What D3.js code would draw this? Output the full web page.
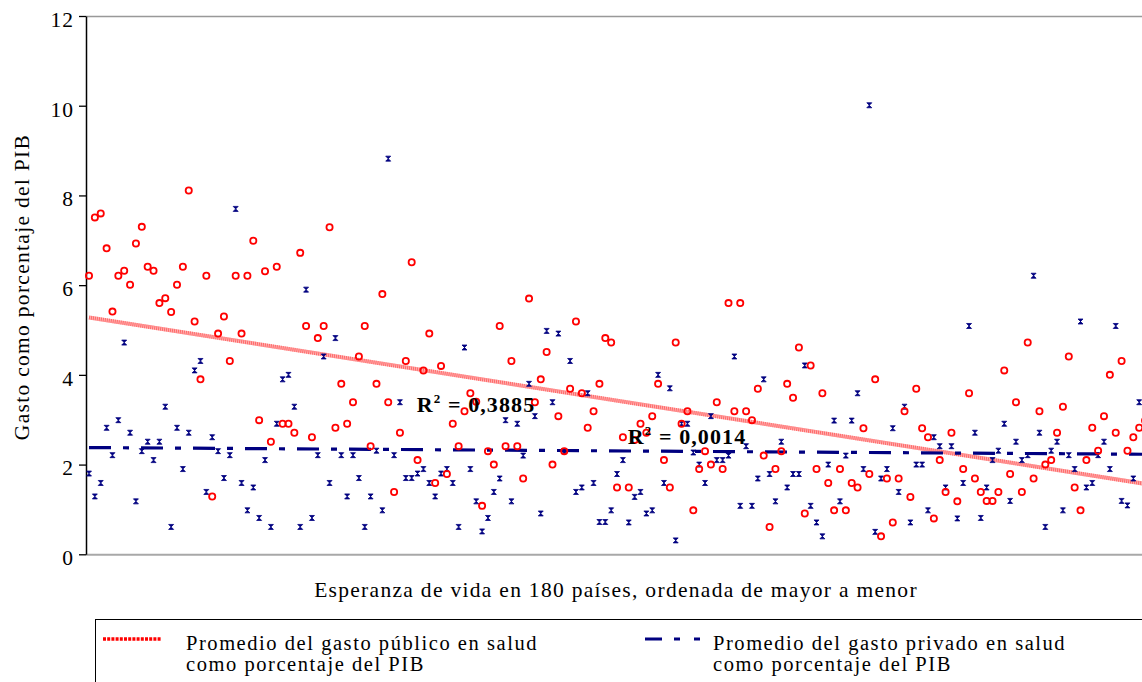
<!DOCTYPE html>
<html>
<head>
<meta charset="utf-8">
<script src="https://cdn.jsdelivr.net/npm/d3@7"></script>
<style>
  html, body { margin: 0; padding: 0; background: #fff; }
  svg { display: block; }
  text { font-family: "Liberation Serif", "Times New Roman", serif; fill: #000; }
</style>
</head>
<body>
<script>
// ---------------- DATA ----------------
const yTicks = [0, 2, 4, 6, 8, 10, 12];

// Public health spending (% of GDP), countries ordered by life expectancy (high -> low)
const publicSpending = [
  6.21, 7.51, 7.60, 6.82, 5.41, 6.21, 6.32, 6.01, 6.93, 7.30,
  6.41, 6.32, 5.60, 5.71, 5.40, 6.01, 6.41, 8.11, 5.19, 3.90,
  6.21, 1.29, 4.92, 5.30, 4.31, 6.21, 4.92, 6.21, 6.99, 2.99,
  6.31, 2.51, 6.41, 2.91, 2.91, 2.71, 6.72, 5.09, 2.61, 4.82,
  5.09, 7.29, 2.82, 3.80, 2.91, 3.39, 4.41, 5.09, 2.41, 3.80,
  5.80, 3.39, 1.39, 2.71, 4.31, 6.51, 2.10, 4.10, 4.92, 1.59,
  4.20, 1.79, 2.91, 2.41, 3.19, 3.59, 3.40, 1.08, 2.30, 2.00,
  5.09, 2.41, 4.31, 2.41, 1.69, 5.70, 3.39, 3.90, 4.51, 2.00,
  3.08, 2.30, 3.69, 5.19, 3.59, 2.82, 3.19, 3.80, 4.82, 4.72,
  1.49, 2.61, 1.49, 2.55, 2.91, 2.71, 3.08, 3.80, 2.10, 1.49,
  4.72, 2.91, 3.19, 0.98, 1.90, 2.30, 2.00, 3.39, 1.90, 5.60,
  3.19, 5.60, 3.19, 2.99, 3.69, 2.20, 0.61, 1.90, 2.30, 3.80,
  3.49, 4.61, 0.91, 4.21, 1.90, 3.59, 1.59, 0.98, 1.90, 0.98,
  1.59, 1.49, 2.81, 1.79, 3.90, 0.40, 1.69, 0.71, 1.69, 3.19,
  1.28, 3.69, 2.81, 2.61, 0.80, 2.10, 1.39, 2.71, 1.18, 1.90,
  3.59, 1.69, 1.39, 1.19, 1.19, 1.39, 4.10, 1.79, 3.39, 1.39,
  4.72, 1.69, 3.19, 2.00, 2.10, 2.71, 3.29, 4.41, 1.49, 0.98,
  2.10, 2.82, 2.31, 3.08, 4.00, 2.71, 4.31, 2.31, 2.61, 2.82,
  2.98
];

// Private health spending (% of GDP), same order
const privateSpending = [
  1.80, 1.29, 1.59, 2.82, 2.21, 2.99, 4.72, 2.71, 1.18, 2.30,
  2.51, 2.10, 2.51, 3.29, 0.61, 2.82, 1.90, 2.71, 4.10, 4.31,
  1.39, 2.61, 2.30, 1.70, 2.21, 7.70, 1.59, 0.98, 1.49, 0.81,
  2.10, 0.61, 2.91, 3.90, 4.00, 3.29, 0.61, 5.90, 0.81, 2.21,
  4.41, 1.59, 4.82, 2.21, 1.29, 2.21, 1.70, 0.61, 1.29, 2.31,
  0.98, 8.82, 2.21, 3.39, 1.70, 1.70, 1.80, 1.90, 1.59, 1.29,
  1.80, 1.90, 1.59, 0.61, 4.61, 1.90, 1.18, 0.51, 0.81, 1.39,
  1.69, 2.99, 1.18, 2.91, 2.20, 3.80, 3.08, 0.91, 4.98, 3.39,
  4.92, 2.30, 4.31, 1.39, 1.49, 3.59, 1.59, 0.72, 0.72, 0.98,
  1.79, 2.10, 0.71, 1.28, 1.39, 0.91, 0.98, 4.00, 1.59, 3.70,
  0.31, 2.91, 2.91, 2.27, 2.00, 1.59, 3.08, 2.10, 2.10, 2.20,
  4.41, 1.08, 2.41, 1.08, 1.69, 3.90, 1.79, 1.18, 2.51, 1.49,
  1.79, 1.79, 4.21, 1.08, 0.71, 0.40, 2.00, 2.98, 1.18, 2.20,
  2.98, 3.59, 1.90, 10.01, 0.50, 1.69, 1.90, 2.81, 1.39, 3.29,
  0.71, 2.00, 2.00, 0.98, 2.61, 2.41, 1.49, 2.41, 0.80, 1.59,
  5.09, 2.71, 0.81, 1.49, 2.10, 2.31, 2.91, 1.19, 2.51, 2.10,
  2.21, 6.21, 2.71, 0.61, 2.31, 2.51, 0.98, 2.21, 1.90, 5.19,
  1.49, 1.59, 2.21, 2.51, 1.90, 5.09, 1.19, 1.09, 1.69, 3.39,
  2.71
];

// Linear trend lines (value at first and last country)
const trendIndex = [0, 180];
const trendPublic = [5.28, 1.57];
const trendPrivate = [2.38, 2.23];

const r2Labels = [
  { text: "0,3885", series: "public" },
  { text: "0,0014", series: "private" }
];

const yTitle = "Gasto como porcentaje del PIB";
const xTitle = "Esperanza de vida en 180 países, ordenada de mayor a menor";
const legendPublic = ["Promedio del gasto público en salud", "como porcentaje del PIB"];
const legendPrivate = ["Promedio del gasto privado en salud", "como porcentaje del PIB"];

// ---------------- CHART ----------------
const W = 1142, H = 682;
const plotLeft = 86, plotTop = 16, plotBottom = 554.3;
const svg = d3.select("body").append("svg").attr("width", W).attr("height", H);

const x = d3.scaleLinear().domain([0, 180]).range([89, 89 + 180 * 5.867]);
const y = d3.scaleLinear().domain([0, 12]).range([plotBottom, plotTop]);

// frame: top and bottom grey lines
svg.append("line").attr("x1", plotLeft).attr("x2", W).attr("y1", plotTop + 0.5).attr("y2", plotTop + 0.5)
  .attr("stroke", "#999").attr("stroke-width", 1.5);
svg.append("line").attr("x1", plotLeft).attr("x2", W).attr("y1", plotBottom + 0.5).attr("y2", plotBottom + 0.5)
  .attr("stroke", "#a8a8a8").attr("stroke-width", 2);

// y axis
const yAxis = svg.append("g").attr("transform", `translate(${plotLeft},0)`)
  .call(d3.axisLeft(y).tickValues(yTicks).tickSize(7).tickSizeOuter(0).tickPadding(5).tickFormat(d3.format("d")));
yAxis.select(".domain").attr("stroke", "#000").attr("stroke-width", 1.5);
yAxis.selectAll(".tick line").attr("stroke", "#000").attr("stroke-width", 1.3);
yAxis.selectAll(".tick text")
  .attr("dy", "0.48em")
  .style("font-family", '"Liberation Serif", serif')
  .style("font-size", "21.5px")
  .style("letter-spacing", "1px")
  .attr("fill", "#000");

// trend lines
const trendLine = (vals) => d3.line().x((d, i) => x(trendIndex[i])).y(d => y(d))(vals);
svg.append("clipPath").attr("id", "clip")
  .append("rect").attr("x", plotLeft).attr("y", plotTop).attr("width", W - plotLeft).attr("height", plotBottom - plotTop);
const trends = svg.append("g").attr("clip-path", "url(#clip)");

trends.append("path").attr("d", trendLine(trendPublic))
  .attr("fill", "none").attr("stroke", "#ffb0b0").attr("stroke-width", 4);
trends.append("path").attr("d", trendLine(trendPublic))
  .attr("fill", "none").attr("stroke", "#ff3030").attr("stroke-width", 4)
  .attr("stroke-dasharray", "1 1").attr("opacity", 0.55);

trends.append("path").attr("d", trendLine(trendPrivate))
  .attr("fill", "none").attr("stroke", "#000080").attr("stroke-width", 3.2)
  .attr("stroke-dasharray", "22 12 6 12");

// markers
const pts = svg.append("g");
pts.selectAll("path.priv").data(privateSpending).join("path")
  .attr("class", "priv")
  .attr("transform", (d, i) => `translate(${x(i)},${y(d)})`)
  .attr("d", "M-2.5,-2.5H2.5L-2.5,2.5H2.5Z")
  .attr("fill", "#000080").attr("stroke", "#000080").attr("stroke-width", 0.8);

pts.selectAll("circle.pub").data(publicSpending).join("circle")
  .attr("class", "pub")
  .attr("cx", (d, i) => x(i)).attr("cy", d => y(d)).attr("r", 3.1)
  .attr("fill", "none").attr("stroke", "#ff0000").attr("stroke-width", 1.8);

// R² labels
const r2Pos = { public: [416.7, 411.7], private: [627.7, 444.3] };
r2Labels.forEach(l => {
  const t = svg.append("text")
    .attr("x", r2Pos[l.series][0]).attr("y", r2Pos[l.series][1])
    .style("font-size", "22px").style("font-weight", "bold").style("letter-spacing", "1.1px");
  t.append("tspan").text("R");
  t.append("tspan").attr("dy", -9).style("font-size", "13px").text("2");
  t.append("tspan").attr("dy", 9).text(" = " + l.text);
});

// axis titles
svg.append("text")
  .attr("transform", "translate(29,287) rotate(-90)")
  .attr("text-anchor", "middle")
  .style("font-size", "21.5px").style("letter-spacing", "1.3px")
  .text(yTitle);

svg.append("text")
  .attr("x", 616).attr("y", 597)
  .attr("text-anchor", "middle")
  .style("font-size", "21.5px").style("letter-spacing", "1.3px")
  .text(xTitle);

// legend
svg.append("rect").attr("x", 95.5).attr("y", 619.5).attr("width", 1100).attr("height", 120)
  .attr("fill", "none").attr("stroke", "#000").attr("stroke-width", 1);

svg.append("line").attr("x1", 103).attr("x2", 161).attr("y1", 639).attr("y2", 639)
  .attr("stroke", "#ff0000").attr("stroke-width", 3.4).attr("stroke-dasharray", "3 1.2");
svg.append("line").attr("x1", 645).attr("x2", 700).attr("y1", 639).attr("y2", 639)
  .attr("stroke", "#000080").attr("stroke-width", 3).attr("stroke-dasharray", "17 12 6 14 6 100");

const legText = (xx, lines) => {
  lines.forEach((s, k) => {
    svg.append("text").attr("x", xx).attr("y", 649.5 + k * 21)
      .style("font-size", "20.5px").style("letter-spacing", "1.55px").text(s);
  });
};
legText(186, legendPublic);
legText(713, legendPrivate);
</script>
</body>
</html>
